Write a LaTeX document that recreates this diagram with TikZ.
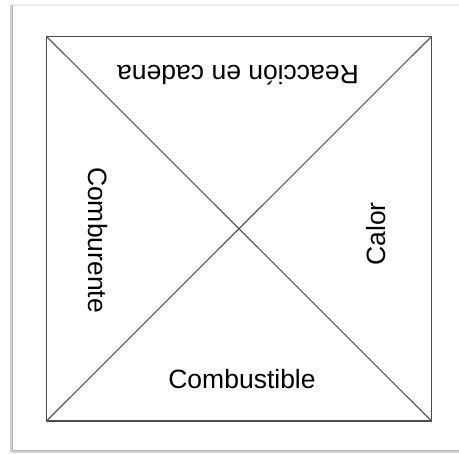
\documentclass[tikz,border=0pt]{standalone}
\usepackage{fontspec}
\setmainfont{Liberation Sans}
\usetikzlibrary{positioning, calc}

\begin{document}
\begin{tikzpicture}[
  x=1pt, y=-1pt,
  edge/.style={draw=black!70, line width=1.4pt},
  diag/.style={draw=black!65, line width=1.1pt},
  lbl/.style={font=\fontsize{26.5}{30}\selectfont, inner sep=0pt},
]
\useasboundingbox (0,0) rectangle (459,454);
% paper shadow
\fill[white] (0,0) rectangle (459,454);
\draw[black!8, line width=1.5pt] (12,5) -- (459,5);
\draw[black!18, line width=3pt] (11,5) -- (11,452);
\draw[black!30, line width=1.2pt] (12.5,5) -- (12.5,451);
\draw[black!18, line width=3pt] (11,452) -- (459,452);
\draw[black!30, line width=1.2pt] (12.5,450.5) -- (459,450.5);

% the square
\coordinate (NW) at (46.5,36.5);
\coordinate (NE) at (431.5,36.5);
\coordinate (SE) at (431.5,421);
\coordinate (SW) at (46.5,421);
\draw[edge] (NW) -- (NE) -- (SE) -- (SW) -- cycle;
\draw[diag] (NW) -- (SE);
\draw[diag] (NE) -- (SW);

\node[lbl, rotate=180] (chain) at (238,75)  {Reacción en cadena};
\node[lbl]             (fuel)  at (242,379) {Combustible};
\node[lbl, rotate=-90] (oxy)   at (98,240)  {Comburente};
\node[lbl, rotate=90]  (heat)  at (376,234) {Calor};
\end{tikzpicture}
\end{document}
